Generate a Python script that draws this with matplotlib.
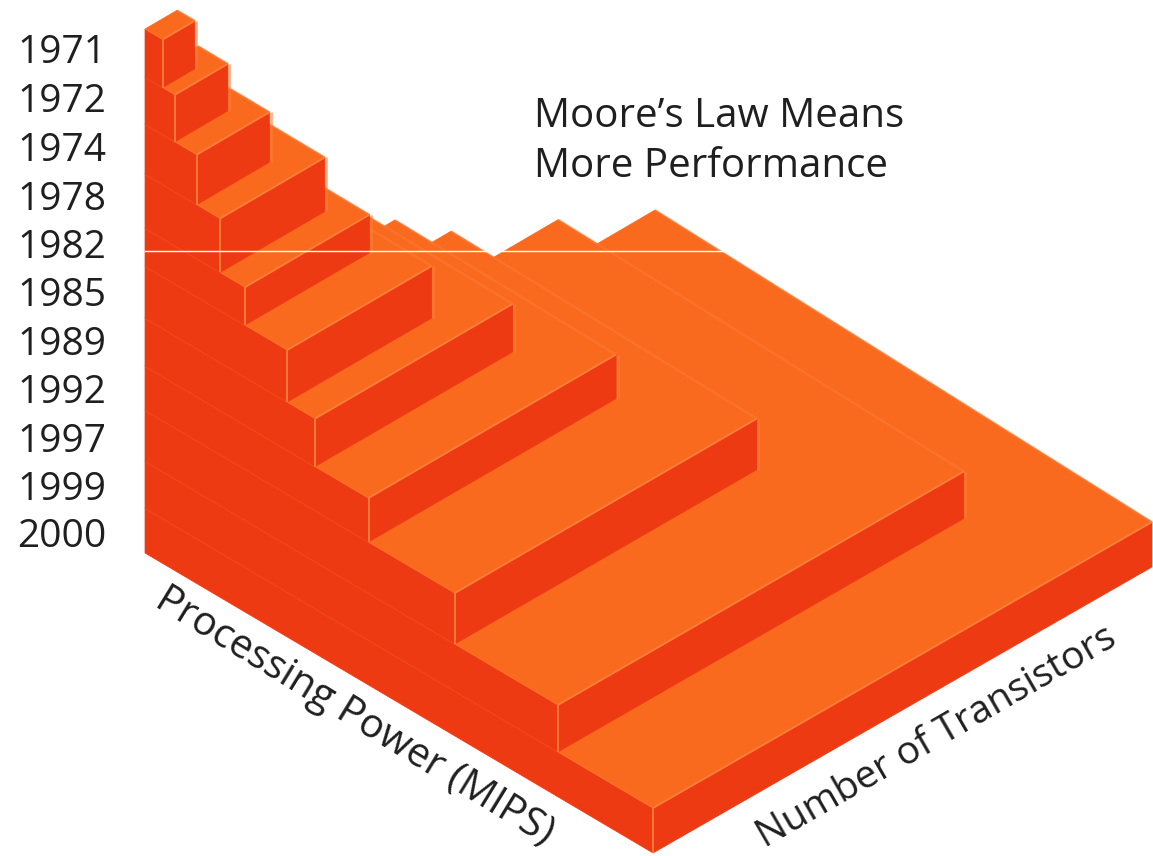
import matplotlib
matplotlib.use("Agg")
import matplotlib.pyplot as plt
from matplotlib.patches import Polygon

# One stacked block per year, back (1971) to front (2000)
years = [1971, 1972, 1974, 1978, 1982, 1985, 1989, 1992, 1997, 1999, 2000]
processing_power = [0.035, 0.059, 0.102, 0.148, 0.197, 0.28, 0.335, 0.44, 0.61, 0.813, 1.0]
transistors = [0.063, 0.104, 0.143, 0.206, 0.245, 0.285, 0.39, 0.49, 0.60, 0.81, 1.0]
block_height = [524, 476, 429, 379, 325, 287, 235, 187, 143, 92, 45]
year_label_y = [53, 102, 151, 200, 248, 296, 345, 393, 442, 490, 537]

TOP = "#F96A1E"
SIDE = "#EE3A12"
EDGE = "#FF7F3A"
INK = "#1f1f1f"
FONT = "Open Sans"

# Ground-plane corners of the oblique view, in pixels
P00, P10, P01, P11 = (145, 553), (653, 853), (655, 255), (1152, 567)


def project(u, v, z=0):
    """Map power u, transistors v and height z onto the page."""
    x = (P00[0] * (1 - u) * (1 - v) + P10[0] * u * (1 - v)
         + P01[0] * (1 - u) * v + P11[0] * u * v)
    y = (P00[1] * (1 - u) * (1 - v) + P10[1] * u * (1 - v)
         + P01[1] * (1 - u) * v + P11[1] * u * v)
    return x, y - z


fig = plt.figure(figsize=(11.53, 8.56), dpi=100)
ax = fig.add_axes([0, 0, 1, 1])
ax.set_xlim(0, 1153)
ax.set_ylim(856, 0)
ax.axis("off")


def face(points, color):
    ax.add_patch(Polygon(points, closed=True, facecolor=color, edgecolor=color,
                         linewidth=0.5, zorder=1))


def edge(a, b, alpha=1.0, lw=1.3):
    ax.plot([a[0], b[0]], [a[1], b[1]], color=EDGE, lw=lw, alpha=alpha,
            solid_capstyle="butt", zorder=1)


# Largest block first so that each smaller, taller one sits on top of it
n = len(years)
for i in range(n - 1, -1, -1):
    u, v, h = processing_power[i], transistors[i], block_height[i]
    base = block_height[i + 1] if i + 1 < n else 0

    face([project(0, 0, base), project(u, 0, base), project(u, 0, h), project(0, 0, h)], SIDE)
    face([project(u, 0, base), project(u, v, base), project(u, v, h), project(u, 0, h)], SIDE)
    face([project(0, 0, h), project(u, 0, h), project(u, v, h), project(0, v, h)], TOP)

    edge(project(u, 0, h), project(u, v, h))
    edge(project(u, 0, h), project(u, 0, base))
    edge(project(u, 0, h), project(0, 0, h), alpha=0.35, lw=1.0)
    edge(project(u, v, h), project(0, v, h), alpha=0.45, lw=1.6)
    right_top, right_base = project(u, v, h), project(u, v, base)
    edge((right_top[0] + 1.5, right_top[1]), (right_base[0] + 1.5, right_base[1]), alpha=0.6, lw=2)

# Hairline crossing the graphic
ax.plot([145, 1153], [250.5, 250.5], color="white", lw=1.0, zorder=2)

for year, y in zip(years, year_label_y):
    ax.text(17, y, str(year), fontsize=28, family=FONT, color=INK, ha="left", va="center", zorder=3)

ax.text(534, 117, "Moore\u2019s Law Means", fontsize=29, family=FONT, color=INK, ha="left", va="center", zorder=3)
ax.text(534, 167, "More Performance", fontsize=29, family=FONT, color=INK, ha="left", va="center", zorder=3)

ax.text(354, 717, "Processing Power (MIPS)", fontsize=29, family=FONT, color=INK,
        rotation=-31.5, rotation_mode="anchor", ha="center", va="center", zorder=3)
ax.text(937, 737, "Number of Transistors", fontsize=28, family=FONT, color=INK,
        rotation=30, rotation_mode="anchor", ha="center", va="center", zorder=3)

fig.savefig("out.png", dpi=100, facecolor="white")
